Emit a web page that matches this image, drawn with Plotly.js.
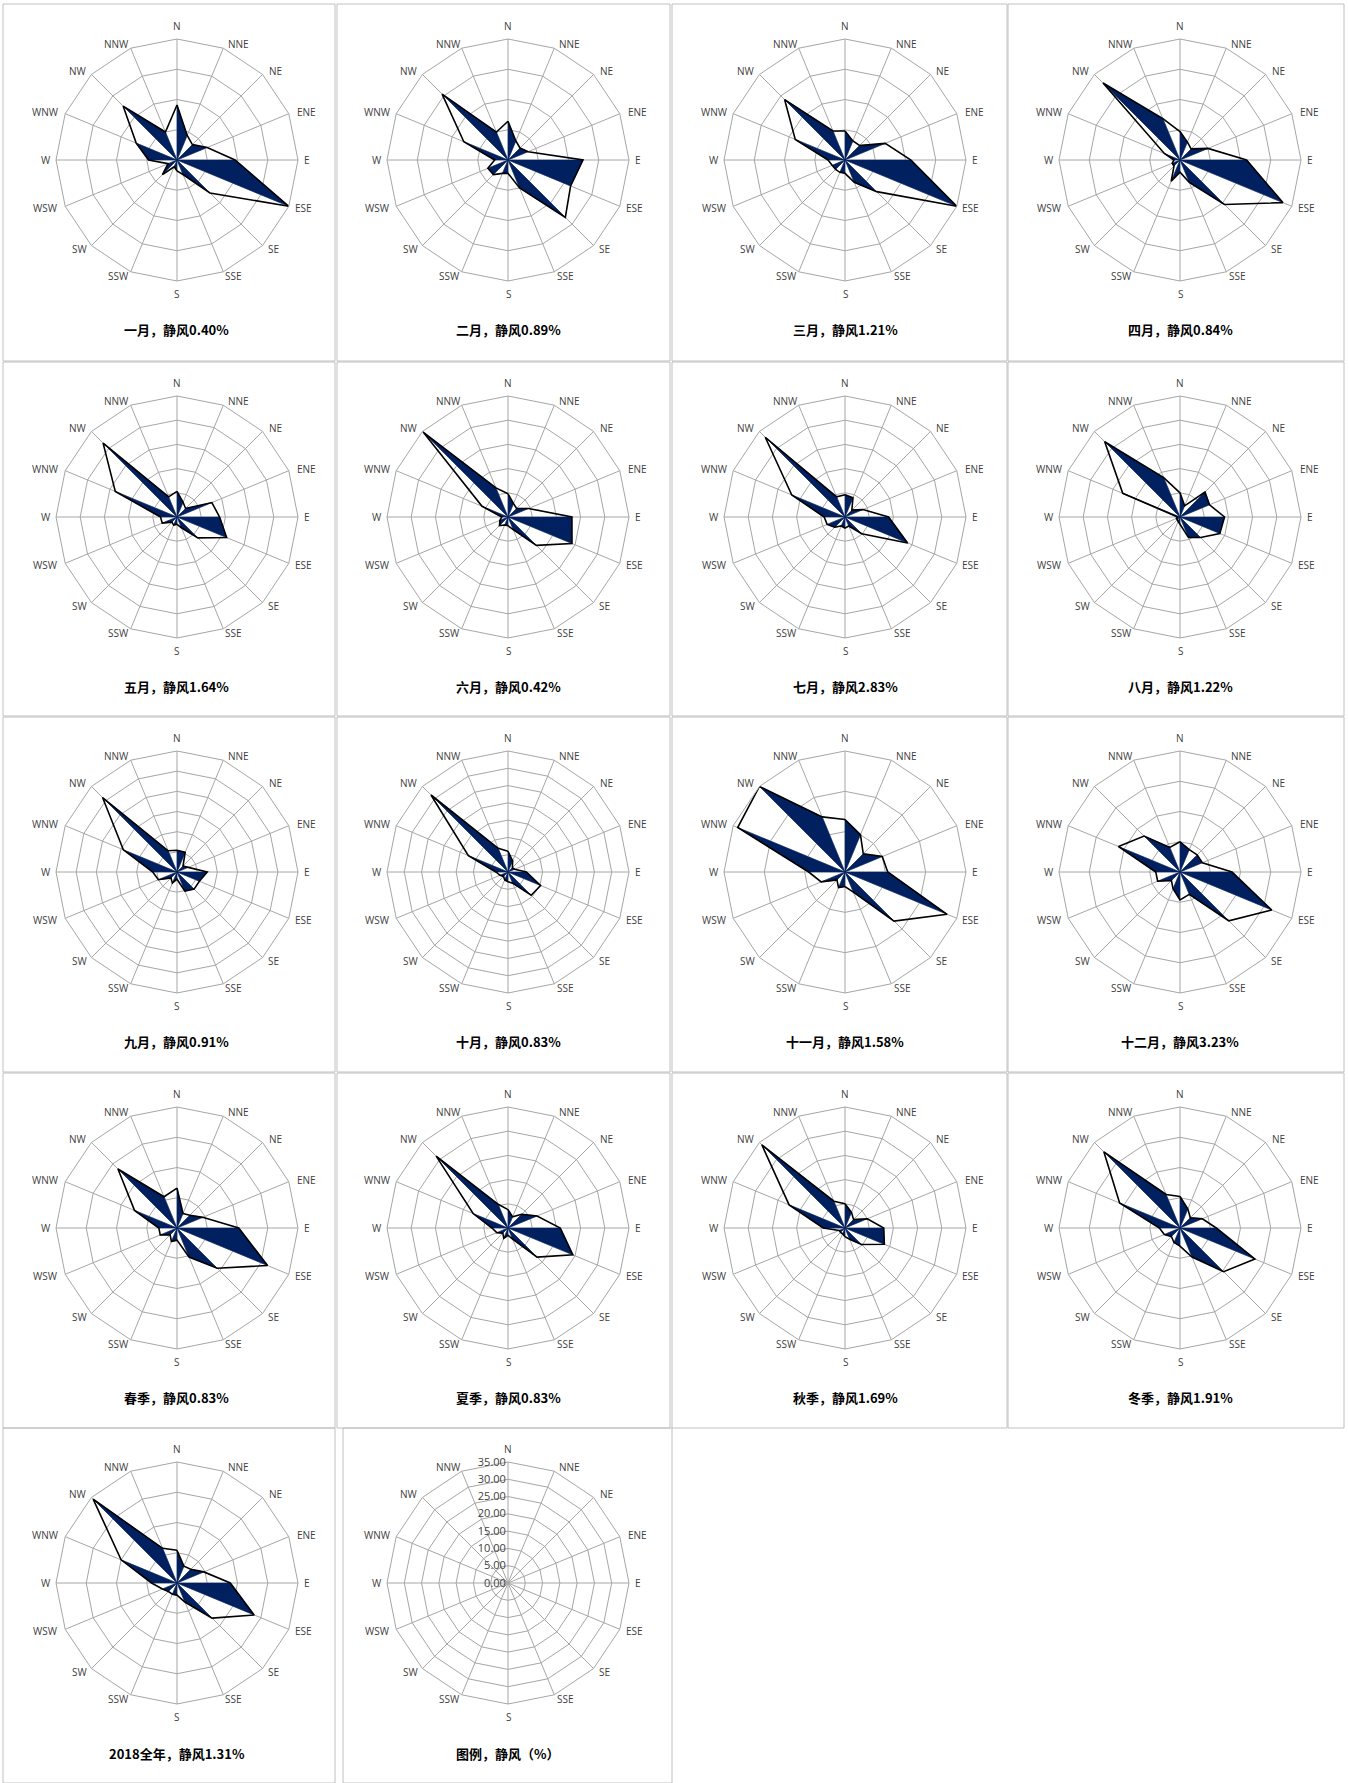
<!DOCTYPE html>
<html>
<head>
<meta charset="utf-8">
<script src="https://cdn.plot.ly/plotly-3.0.1.min.js"></script>
<style>
html,body{margin:0;padding:0;background:#fff;}
#chart{width:1349px;height:1783px;}
</style>
</head>
<body>
<div id="chart"></div>
<script>
// Wind directions (clockwise from north)
const dirs = ['N','NNE','NE','ENE','E','ESE','SE','SSE','S','SSW','SW','WSW','W','WNW','NW','NNW'];

// Wind direction frequency (%) per panel, in the order of dirs
const jan    = [9.1, 4.4, 3.6, 5.4, 9.6, 20.0, 7.7, 2.6, 1.8, 1.2, 3.4, 1.6, 4.7, 7.3, 12.6, 5.0];
const feb    = [6.4, 3.4, 2.8, 3.6, 12.4, 11.2, 13.4, 5.0, 2.2, 2.4, 3.4, 3.6, 2.2, 7.9, 15.4, 5.0];
const mar    = [4.8, 3.4, 3.4, 7.2, 10.9, 20.0, 7.4, 4.0, 2.2, 2.2, 2.2, 2.3, 2.8, 8.9, 14.1, 5.2];
const apr    = [4.7, 3.2, 2.6, 5.0, 11.0, 18.4, 10.4, 4.0, 2.0, 3.8, 1.4, 1.4, 1.0, 2.8, 18.0, 7.4];
const may    = [5.3, 3.3, 2.5, 7.8, 8.8, 11.1, 6.1, 2.4, 1.5, 1.8, 1.5, 3.3, 3.4, 13.8, 21.6, 4.5];
const jun    = [4.8, 3.0, 2.5, 4.6, 13.2, 14.3, 8.3, 2.8, 1.8, 1.8, 2.5, 1.8, 1.3, 5.8, 24.8, 6.5];
const jul    = [4.6, 4.3, 2.0, 4.0, 9.0, 14.0, 4.9, 2.0, 2.3, 2.0, 3.0, 4.0, 4.3, 11.9, 23.3, 4.5];
const aug    = [5.0, 2.5, 7.3, 6.6, 9.2, 8.9, 6.0, 4.6, 1.5, 1.0, 0.8, 0.8, 0.5, 12.8, 22.0, 8.8];
const sep    = [5.4, 5.3, 2.1, 3.0, 7.5, 6.0, 6.0, 5.1, 1.8, 3.0, 2.1, 5.0, 6.0, 14.4, 26.1, 5.7];
const oct    = [6.0, 3.5, 1.8, 2.1, 5.3, 10.2, 9.5, 3.5, 2.8, 2.5, 1.8, 2.5, 3.5, 12.4, 31.5, 7.4];
const nov    = [6.5, 5.0, 3.2, 5.0, 5.3, 13.7, 8.6, 2.7, 1.8, 2.1, 1.4, 3.2, 4.5, 14.4, 15.0, 7.4];
const dec    = [5.0, 4.0, 4.0, 4.0, 8.6, 16.4, 11.4, 4.0, 4.6, 3.0, 2.0, 4.0, 4.0, 11.0, 8.4, 4.4];
const spring = [6.6, 2.6, 3.0, 4.6, 10.2, 16.2, 9.4, 5.2, 2.0, 2.4, 1.6, 3.0, 3.0, 7.6, 13.8, 5.6];
const summer = [3.8, 2.5, 4.0, 6.5, 10.8, 14.5, 8.5, 2.5, 1.5, 2.3, 1.5, 2.5, 3.3, 7.8, 21.0, 5.3];
const autumn = [5.0, 3.5, 2.5, 5.0, 8.0, 8.8, 4.8, 2.5, 1.8, 1.3, 1.3, 1.3, 4.5, 12.5, 24.3, 6.0];
const winter = [5.2, 3.4, 2.4, 4.0, 6.0, 13.4, 10.2, 5.2, 3.0, 2.6, 2.0, 2.8, 3.4, 10.8, 17.8, 6.0];
const annual = [5.4, 3.0, 3.2, 4.8, 8.8, 13.8, 8.2, 3.4, 2.0, 2.0, 2.0, 2.6, 4.2, 10.0, 19.6, 6.2];

// Panel titles and radial axis maxima (%)
const titles = ['一月，静风0.40%','二月，静风0.89%','三月，静风1.21%','四月，静风0.84%',
                '五月，静风1.64%','六月，静风0.42%','七月，静风2.83%','八月，静风1.22%',
                '九月，静风0.91%','十月，静风0.83%','十一月，静风1.58%','十二月，静风3.23%',
                '春季，静风0.83%','夏季，静风0.83%','秋季，静风1.69%','冬季，静风1.91%',
                '2018全年，静风1.31%','图例，静风（%）'];
const radialMax = [20,20,20,20, 25,25,25,25, 30,35,15,20, 20,25,25,20, 20,35];
const series = [jan,feb,mar,apr,may,jun,jul,aug,sep,oct,nov,dec,spring,summer,autumn,winter,annual,null];

const W = 1349, H = 1783, R = 121;
const colX = [177, 508, 845, 1180];
const rowY = [160, 517, 872, 1228, 1583];
const titleY = [329, 686, 1041, 1397, 1753];
const panelX = [[3,335],[337,670],[672,1007],[1008,1344]];
const panelY = [[4,361],[362,716],[717,1072],[1073,1428],[1428,1783]];
// direction-label centre offsets from the rose centre (px), Excel-style placement
const labDX = [0, 61, 98, 129, 130, 126, 96, 57, 0, -59, -98, -131, -131, -131, -99, -60];
const labDY = [-134, -116, -89, -48, 0, 48, 89, 116, 134, 116, 89, 48, 0, -48, -89, -116];

const NAVY = '#002060';
const GRID = '#A6A6A6';

const traces = [];
const layout = {
  width: W, height: H,
  margin: {l:0, r:0, t:0, b:0},
  paper_bgcolor: '#ffffff',
  showlegend: false,
  font: {family: '"Open Sans", "Noto Sans", sans-serif', color: '#404040'},
  annotations: [],
  shapes: []
};

for (let k = 0; k < 18; k++) {
  const row = Math.floor(k / 4), col = k % 4;
  const cx = colX[col], cy = rowY[row];
  const pname = k === 0 ? 'polar' : 'polar' + (k + 1);
  const vals = series[k];
  const isLegend = vals === null;

  layout[pname] = {
    domain: {x: [(cx - R) / W, (cx + R) / W], y: [1 - (cy + R) / H, 1 - (cy - R) / H]},
    bgcolor: 'rgba(0,0,0,0)',
    gridshape: 'linear',
    radialaxis: {
      range: [0, radialMax[k]], dtick: 5, tick0: 0,
      showline: false, ticks: '',
      gridcolor: GRID, gridwidth: 1,
      showticklabels: isLegend,
      tickformat: '.2f',
      angle: 90, tickangle: 90,
      side: 'counterclockwise',
      tickfont: {size: 11, color: '#404040'}
    },
    angularaxis: {
      type: 'category', categoryorder: 'array', categoryarray: dirs,
      direction: 'clockwise', rotation: 90,
      showline: true, linecolor: GRID, linewidth: 1,
      gridcolor: GRID, gridwidth: 1, ticks: '',
      showticklabels: false
    }
  };

  if (!isLegend) {
    // alternating filled sectors: centre -> tip(i) -> tip(i+1) -> centre
    const fr = [], ft = [];
    for (let i = 0; i < 16; i += 2) {
      fr.push(0, vals[i], vals[i + 1], 0);
      ft.push(dirs[i], dirs[i], dirs[i + 1], dirs[i + 1]);
    }
    traces.push({
      type: 'scatterpolar', subplot: pname, r: fr, theta: ft,
      mode: 'lines', fill: 'toself', fillcolor: NAVY,
      line: {color: NAVY, width: 0.5}, hoverinfo: 'skip'
    });
    traces.push({
      type: 'scatterpolar', subplot: pname,
      r: vals.concat([vals[0]]), theta: dirs.concat([dirs[0]]),
      mode: 'lines', line: {color: '#000000', width: 1.6}, hoverinfo: 'skip'
    });
  } else {
    traces.push({
      type: 'scatterpolar', subplot: pname,
      r: dirs.map(() => 0), theta: dirs,
      mode: 'markers', marker: {size: 1, opacity: 0}, hoverinfo: 'skip'
    });
  }

  // direction labels around the polygon
  dirs.forEach((d, i) => {
    layout.annotations.push({
      xref: 'paper', yref: 'paper',
      x: (cx + labDX[i]) / W, y: 1 - (cy + labDY[i]) / H,
      xanchor: 'center', yanchor: 'middle', showarrow: false,
      text: d, font: {family: '"Open Sans", sans-serif', size: 10, color: '#404040'}
    });
  });

  layout.annotations.push({
    xref: 'paper', yref: 'paper',
    x: cx / W, y: 1 - titleY[row] / H,
    xanchor: 'center', yanchor: 'middle', showarrow: false,
    text: '<b>' + titles[k] + '</b>',
    font: {family: '"Noto Sans CJK SC", sans-serif', size: 13, color: '#000000'}
  });

  let px = panelX[col];
  if (isLegend) px = [343, 672];
  const py = panelY[row];
  layout.shapes.push({
    type: 'rect', xref: 'paper', yref: 'paper',
    x0: px[0] / W, x1: px[1] / W, y0: 1 - py[1] / H, y1: 1 - py[0] / H,
    line: {color: '#C0C0C0', width: 1}, fillcolor: 'rgba(0,0,0,0)', layer: 'below'
  });
}

Plotly.newPlot('chart', traces, layout, {staticPlot: true, displayModeBar: false});
</script>
</body>
</html>
